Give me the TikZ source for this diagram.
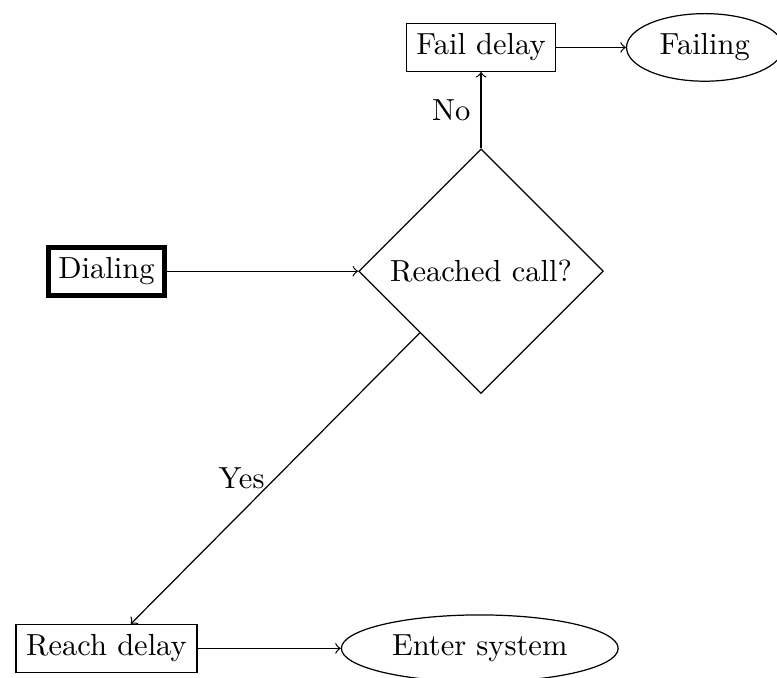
\documentclass[tikz,border=0pt]{standalone}
\usepackage{tikz}
\usetikzlibrary{
    positioning,
    shapes.geometric
}
\tikzset{
    block/.style={
        rectangle, draw
    },
    startblock/.style={
        block, ultra thick
    },
    decision/.style={
        diamond, draw
    },
    terminal/.style={
        ellipse, draw
    },
    arrow/.style={
        ->
    }
}

\begin{document}
\begin{tikzpicture}
    \useasboundingbox (-157.7pt,-133.1pt) rectangle (97pt,88.9pt);

    % --- DECISION ---
    \node[decision] (reached) {Reached call?};
    \node[startblock, left=2.2cm of reached] (dialing) {Dialing};

    % --- FAIL PATH ---
    \node[block, above=0.88cm of reached] (faildelay) {Fail delay};
    \node[terminal, right=0.8cm of faildelay] (failing) {Failing};

    % --- REACH PATH ---
    \node[block, below=3.76cm of dialing] (reachdelay) {Reach delay};
    \node[terminal, right=1.65cm of reachdelay] (entersystem) {Enter system};

    % --- ARROWS ---
    \draw[arrow] (dialing) -- (reached);
    \draw[arrow] (reached) -- node[midway, left] {No} (faildelay);
    \draw[arrow] (faildelay) -- (failing);
    \draw[arrow] (reached) -- node[midway, left] {Yes} (reachdelay);
    \draw[arrow] (reachdelay) -- (entersystem);

\end{tikzpicture}
\end{document}
